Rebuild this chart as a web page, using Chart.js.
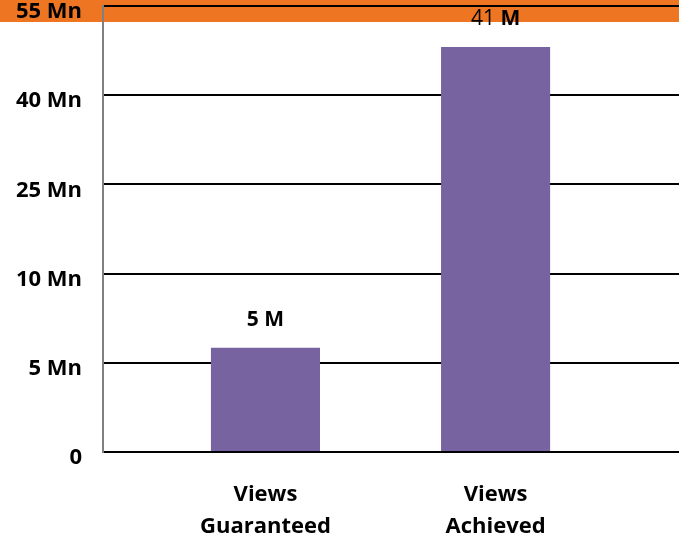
<!DOCTYPE html>
<html>
<head>
<meta charset="utf-8">
<script src="https://cdn.jsdelivr.net/npm/chart.js@4.4.1/dist/chart.umd.min.js"></script>
<style>
  body { margin: 0; background: #fff; }
  #wrap { width: 679px; height: 539px; position: relative; }
</style>
</head>
<body>
<div id="wrap"><canvas id="grafico"></canvas></div>
<script>
// categorias y valores (altura de barra leida en unidades del eje, que no es lineal)
const categorias = [['Views', 'Guaranteed'], ['Views', 'Achieved']];
const alturas = [1.17, 4.54];
const etiquetasNum = ['5', '41'];
const etiquetasUnidad = ['M', 'M'];
const numNegrita = [true, false];
const etiquetasEjeY = ['0', '5 Mn', '10 Mn', '25 Mn', '40 Mn', '55 Mn'];

const FUENTE = '"Open Sans", "Liberation Sans", sans-serif';

// franja naranja arriba
const franja = {
    id: 'franja',
    beforeDraw(chart) {
        const ctx = chart.ctx;
        ctx.save();
        ctx.fillStyle = '#EE7623';
        ctx.fillRect(0, 0, chart.width, 22);
        ctx.restore();
    }
};

// etiquetas encima de cada barra
const etiquetas = {
    id: 'etiquetas',
    afterDatasetsDraw(chart) {
        const ctx = chart.ctx;
        const meta = chart.getDatasetMeta(0);
        ctx.save();
        ctx.fillStyle = '#000';
        ctx.textBaseline = 'middle';
        ctx.textAlign = 'left';
        meta.data.forEach((bar, i) => {
            const fNum = (numNegrita[i] ? 'bold ' : '') + '21px ' + FUENTE;
            const fUni = 'bold 21px ' + FUENTE;
            ctx.font = fNum;
            const t1 = etiquetasNum[i] + ' ';
            const w1 = ctx.measureText(t1).width;
            ctx.font = fUni;
            const w2 = ctx.measureText(etiquetasUnidad[i]).width;
            let x = bar.x - (w1 + w2) / 2;
            const y = bar.y - 28;
            ctx.font = fNum;
            ctx.fillText(t1, x, y);
            ctx.font = fUni;
            ctx.fillText(etiquetasUnidad[i], x + w1, y);
        });
        ctx.restore();
    }
};

const ctx = document.getElementById('grafico').getContext('2d');
new Chart(ctx, {
    type: 'bar',
    data: {
        datasets: [{
            data: alturas.map((v, i) => ({ x: i + 1, y: v })),
            backgroundColor: '#77639F',
            borderWidth: 0,
            categoryPercentage: 1,
            barPercentage: 0.474
        }]
    },
    plugins: [franja, etiquetas],
    options: {
        responsive: true,
        maintainAspectRatio: false,
        animation: false,
        layout: { padding: { top: 6, right: 0, bottom: 0, left: 0 } },
        plugins: {
            legend: { display: false },
            tooltip: { enabled: false }
        },
        scales: {
            x: {
                type: 'linear',
                offset: false,
                min: 0.294,
                max: 2.797,
                grid: { display: false },
                border: { display: false },
                afterBuildTicks: s => {
                    s.ticks = categorias.map((c, i) => ({ value: i + 1 }));
                },
                afterFit: s => {
                    s.height = 87;
                    s.paddingLeft = 0;
                    s.paddingRight = 0;
                },
                ticks: {
                    autoSkip: false,
                    maxRotation: 0,
                    padding: 19,
                    color: '#000',
                    font: { family: FUENTE, size: 22, weight: 'bold', lineHeight: 1.45 },
                    callback: (v, i) => categorias[i]
                }
            },
            y: {
                min: 0,
                max: 5,
                grid: {
                    color: '#000',
                    lineWidth: 2,
                    drawTicks: false
                },
                border: { display: true, color: '#808080', width: 2 },
                afterFit: s => {
                    s.width = 103;
                    s.paddingTop = 0;
                    s.paddingBottom = 0;
                },
                ticks: {
                    stepSize: 1,
                    padding: 21,
                    labelOffset: 6,
                    color: '#000',
                    font: { family: FUENTE, size: 22, weight: 'bold' },
                    callback: (v, i) => etiquetasEjeY[i]
                }
            }
        }
    }
});
</script>
</body>
</html>
